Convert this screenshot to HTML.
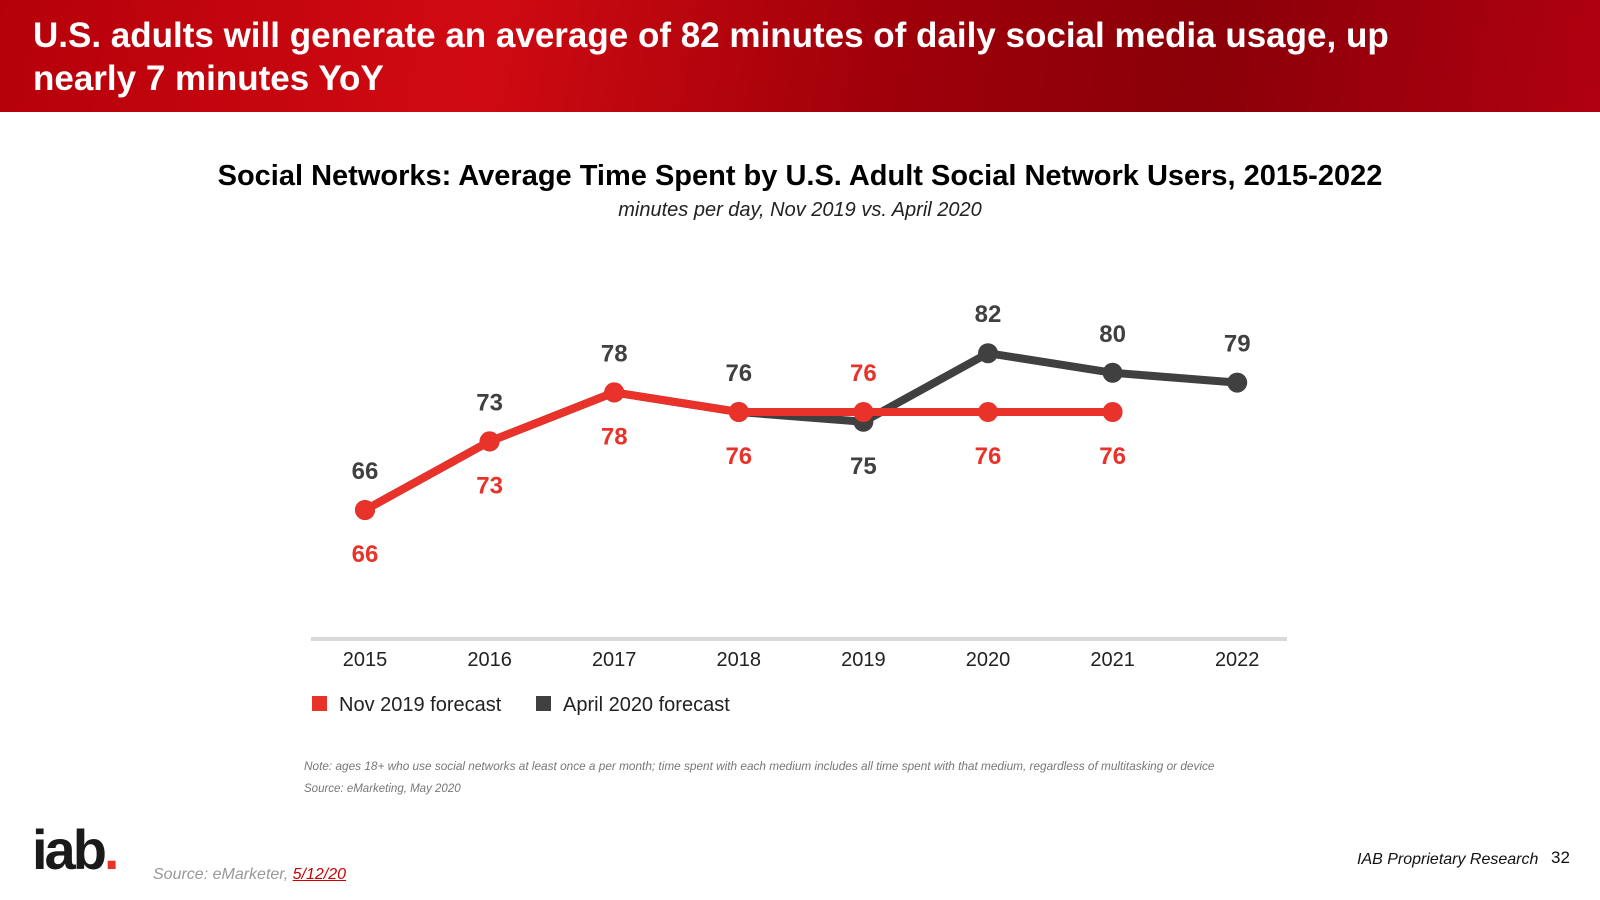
<!DOCTYPE html>
<html><head><meta charset="utf-8"><style>
body{margin:0;width:1600px;height:900px;overflow:hidden;background:#fff;font-family:"Liberation Sans",Calibri,sans-serif;position:relative}
.hdr{position:absolute;left:0;top:0;width:1600px;height:112px;background:linear-gradient(100deg,#b5000a 0%,#d10a12 30%,#a0000a 55%,#8a0008 75%,#b00010 100%)}
.hdr h1{margin:0;position:absolute;left:33px;top:14px;color:#fff;font-size:35px;line-height:43px;font-weight:bold;width:1440px}
.abs{position:absolute;white-space:nowrap}
</style></head><body>
<div class="hdr"><h1>U.S. adults will generate an average of 82 minutes of daily social media usage, up nearly 7 minutes YoY</h1></div>
<div class="abs" style="left:0;width:1600px;text-align:center;top:160px;font-size:29px;font-weight:bold;color:#000">Social Networks: Average Time Spent by U.S. Adult Social Network Users, 2015-2022</div>
<div class="abs" style="left:0;width:1600px;text-align:center;top:199px;font-size:20px;font-style:italic;color:#222">minutes per day, Nov 2019 vs. April 2020</div>
<svg id="chart" style="position:absolute;left:0;top:0" width="1600" height="900"></svg>
<div class="abs" style="left:312px;top:694px;font-size:20px;color:#222"><span style="display:inline-block;width:15px;height:15px;background:#e8322a;margin-right:12px"></span>Nov 2019 forecast</div>
<div class="abs" style="left:536px;top:694px;font-size:20px;color:#222"><span style="display:inline-block;width:15px;height:15px;background:#404040;margin-right:12px"></span>April 2020 forecast</div>
<div class="abs" style="left:304px;top:759px;font-size:11.8px;font-style:italic;color:#777">Note: ages 18+ who use social networks at least once a per month; time spent with each medium includes all time spent with that medium, regardless of multitasking or device</div>
<div class="abs" style="left:304px;top:783px;font-size:11.5px;font-style:italic;color:#777">Source: eMarketing, May 2020</div>
<div class="abs" style="left:32px;top:820px;font-size:56px;font-weight:bold;color:#1a1a1a;letter-spacing:-3px;line-height:60px">iab<span style="color:#e8322a">.</span></div>
<div class="abs" style="left:153px;top:866px;font-size:16px;font-style:italic;color:#999">Source: eMarketer, <span style="color:#c00;text-decoration:underline">5/12/20</span></div>
<div class="abs" style="left:1357px;top:851px;font-size:16px;font-style:italic;color:#111">IAB Proprietary Research</div>
<div class="abs" style="left:1551px;top:848px;font-size:17px;color:#111">32</div>
<script>
const years=["2015","2016","2017","2018","2019","2020","2021","2022"];
const novValues=[66,73,78,76,76,76,76,null];
const aprValues=[66,73,78,76,75,82,80,79];
const aprLabelAbove=[true,true,true,true,false,true,true,true];
const svg=document.getElementById('chart');const NS='http://www.w3.org/2000/svg';
const x=i=>365+i*124.6;const y=v=>510-(v-66)*9.8;
function mk(t,a){const e=document.createElementNS(NS,t);for(const k in a)e.setAttribute(k,a[k]);svg.appendChild(e);return e;}
const ax=mk('line',{x1:311,x2:1287,y1:639,y2:639,stroke:'#d9d9d9','stroke-width':4});


years.forEach((yr,i)=>{const t=mk('text',{x:x(i),y:666,'text-anchor':'middle','font-size':20,fill:'#222','font-family':'Liberation Sans, sans-serif'});t.textContent=yr;

});
function series(vals,color,name){const pts=vals.map((v,i)=>v==null?null:[x(i),y(v)]).filter(p=>p);
const p=mk('polyline',{points:pts.map(p=>p.join(',')).join(' '),fill:'none',stroke:color,'stroke-width':8,'stroke-linejoin':'round'});


pts.forEach(q=>{const c=mk('circle',{cx:q[0],cy:q[1],r:10,fill:color});

});}
series(aprValues,'#404040','april-2020');
series(novValues,'#e8322a','nov-2019');
aprValues.forEach((v,i)=>{const up=aprLabelAbove[i];const t=mk('text',{x:x(i),y:y(v)+(up?-31:52),'text-anchor':'middle','font-size':24,'font-weight':'bold',fill:'#404040','font-family':'Liberation Sans, sans-serif'});t.textContent=v;

});
novValues.forEach((v,i)=>{if(v==null)return;const up=!aprLabelAbove[i];const t=mk('text',{x:x(i),y:y(v)+(up?-31:52),'text-anchor':'middle','font-size':24,'font-weight':'bold',fill:'#e8322a','font-family':'Liberation Sans, sans-serif'});t.textContent=v;

});
</script>
</body></html>
